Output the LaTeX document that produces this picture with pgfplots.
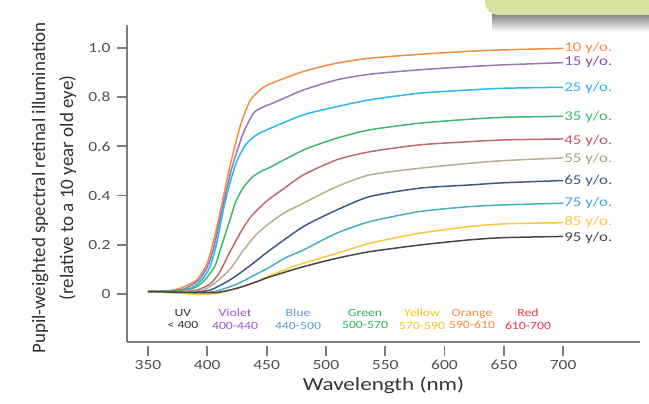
\documentclass[border=0pt]{standalone}
\usepackage{pgfplots}
\pgfplotsset{compat=1.18}
\usepackage{fontspec}
\setmainfont{Carlito}[FakeStretch=1.25]
\newfontfamily\ylabfont{Carlito}

\definecolor{c10}{RGB}{245,140,65}
\definecolor{c15}{RGB}{150,120,180}
\definecolor{l15}{RGB}{135,80,175}
\definecolor{c25}{RGB}{40,185,240}
\definecolor{c35}{RGB}{60,185,110}
\definecolor{c45}{RGB}{195,105,110}
\definecolor{l45}{RGB}{190,90,95}
\definecolor{c55}{RGB}{185,175,140}
\definecolor{l55}{RGB}{170,160,120}
\definecolor{c65}{RGB}{60,90,130}
\definecolor{c75}{RGB}{70,175,195}
\definecolor{l75}{RGB}{70,160,220}
\definecolor{c85}{RGB}{250,200,60}
\definecolor{c95}{RGB}{70,70,70}
\definecolor{axgray}{RGB}{125,125,125}
\definecolor{tickgray}{RGB}{80,80,80}
\definecolor{boxgreen}{RGB}{214,227,160}
\definecolor{bViolet}{RGB}{160,80,200}
\definecolor{bBlue}{RGB}{91,155,213}
\definecolor{bGreen}{RGB}{46,175,90}
\definecolor{bYellow}{RGB}{245,197,24}
\definecolor{bOrange}{RGB}{245,138,60}
\definecolor{bRed}{RGB}{240,48,64}

\begin{document}
\begin{tikzpicture}
\useasboundingbox (0,0) rectangle (649pt,-404pt);
\clip (0,0) rectangle (649pt,-404pt);
% decorative slide box
\shade[top color=black!60, bottom color=white] (492pt,-10pt) rectangle (660pt,-32pt);
\fill[boxgreen, rounded corners=13pt] (485pt,-15pt) rectangle (700pt,30pt);

\begin{axis}[
  at={(127pt,-342pt)}, anchor=south west,
  scale only axis, width=513pt, height=317pt,
  xmin=332.3, xmax=764.8, ymin=-0.195, ymax=1.093,
  axis x line*=bottom, axis y line*=left,
  axis line style={axgray, line width=1.8pt},
  tick align=outside, major tick length=10pt,
  xtick={350,400,450,500,550,600,650,700},
  xticklabels={350,400,450,500,550,600,650,700},
  ytick={0,0.2,0.4,0.6,0.8,1.0},
  yticklabels={0,0.2,0.4,0.6,0.8,1.0},
  xtick style={axgray, line width=1.8pt, yshift=-4pt},
  ytick style={axgray, line width=1.8pt},
  xticklabel style={font=\fontsize{14}{16}\selectfont, text=tickgray, yshift=-5pt},
  yticklabel style={font=\fontsize{14}{16}\selectfont, text=tickgray, xshift=-3pt},
  xlabel={Wavelength (nm)},
  xlabel style={at={(axis description cs:0.5,0)}, anchor=center, yshift=-43pt,
    font=\fontsize{18.5}{20}\selectfont, text=black!80},
  ylabel={Pupil-weighted spectral retinal illumination\\(relative to a 10 year old eye)},
  ylabel style={at={(axis description cs:-0.1423,0.486)}, anchor=center, rotate=0,
    align=center, font=\ylabfont\fontsize{19}{28}\selectfont, text=black!80},
  clip=false,
  every axis plot/.append style={line width=1.5pt, smooth, tension=0.4},
]
% 10 y/o
\addplot[c10] coordinates {(350,0.01)(365,0.012)(377,0.023)(391,0.057)(399.5,0.12)(405,0.21)(410.7,0.33)(419,0.517)(427.6,0.68)(436,0.785)(446,0.835)(455,0.858)(481,0.904)(509,0.938)(537,0.958)(579,0.974)(621,0.986)(650,0.992)(700,0.998)};
% 15 y/o
\addplot[c15] coordinates {(350,0.01)(365,0.012)(380,0.02)(393,0.057)(401,0.12)(406,0.2)(411,0.31)(420,0.5)(430,0.65)(439,0.735)(447,0.76)(455,0.775)(481,0.829)(509,0.87)(537,0.893)(579,0.911)(621,0.924)(650,0.931)(700,0.94)};
% 25 y/o
\addplot[c25] coordinates {(350,0.01)(365,0.012)(385.4,0.023)(395.3,0.057)(402.3,0.111)(407.9,0.206)(413.5,0.341)(419,0.45)(425,0.54)(432,0.605)(441,0.645)(453,0.673)(481,0.728)(509,0.761)(537,0.789)(579,0.816)(621,0.829)(650,0.836)(700,0.84)};
% 35 y/o
\addplot[c35] coordinates {(350,0.01)(365,0.011)(388,0.023)(398,0.057)(406.5,0.115)(412,0.195)(419,0.3)(424,0.375)(430,0.43)(438,0.475)(446,0.5)(453,0.515)(481,0.585)(509,0.633)(537,0.667)(579,0.694)(621,0.71)(650,0.718)(700,0.722)};
% 45 y/o
\addplot[c45] coordinates {(350,0.01)(375,0.01)(391,0.016)(402,0.04)(410,0.085)(419,0.17)(428,0.25)(436,0.31)(445,0.355)(453,0.389)(465,0.43)(481,0.484)(509,0.545)(537,0.578)(579,0.606)(621,0.619)(650,0.626)(700,0.63)};
% 55 y/o
\addplot[c55] coordinates {(350,0.01)(380,0.008)(396.6,0.016)(407.9,0.05)(419,0.1)(430,0.175)(441,0.24)(453,0.29)(465,0.33)(481,0.369)(509,0.436)(537,0.484)(579,0.511)(621,0.531)(650,0.542)(700,0.553)};
% 65 y/o
\addplot[c65] coordinates {(350,0.01)(385,0.006)(402.3,0.016)(419,0.057)(436,0.115)(453,0.179)(481,0.274)(509,0.341)(537,0.396)(579,0.43)(621,0.443)(650,0.452)(700,0.461)};
% 75 y/o
\addplot[c75] coordinates {(350,0.01)(385,0.005)(405,0.009)(424.8,0.04)(441,0.08)(453,0.11)(465,0.145)(481,0.179)(509,0.247)(537,0.294)(579,0.335)(621,0.355)(650,0.362)(700,0.369)};
% 85 y/o
\addplot[c85] coordinates {(350,0.01)(375,0.004)(391,-0.002)(408,0.003)(424.8,0.023)(441.6,0.05)(453,0.075)(481,0.125)(509,0.165)(537,0.206)(579,0.247)(621,0.274)(650,0.285)(700,0.29)};
% 95 y/o
\addplot[c95] coordinates {(350,0.01)(375,0.007)(391,0.006)(408,0.006)(424.8,0.023)(441.6,0.05)(453,0.07)(481,0.111)(509,0.145)(537,0.172)(579,0.199)(621,0.22)(650,0.229)(700,0.234)};

% curve labels
\begin{scope}[every node/.style={anchor=west, inner sep=1pt, font=\fontsize{13.5}{15}\selectfont}]
\node[text=c10] at (axis cs:700,1.0) {10 y/o.};
\node[text=l15] at (axis cs:700,0.943) {15 y/o.};
\node[text=c25] at (axis cs:700,0.837) {25 y/o.};
\node[text=c35] at (axis cs:700,0.72) {35 y/o.};
\node[text=l45] at (axis cs:700,0.622) {45 y/o.};
\node[text=l55] at (axis cs:700,0.549) {55 y/o.};
\node[text=c65] at (axis cs:700,0.459) {65 y/o.};
\node[text=l75] at (axis cs:700,0.37) {75 y/o.};
\node[text=c85] at (axis cs:700,0.293) {85 y/o.};
\node[text=c95] at (axis cs:700,0.228) {95 y/o.};
\end{scope}

% colour band labels
\begin{scope}[every node/.style={anchor=center, align=center, inner sep=0pt, font=\fontsize{11}{12.5}\selectfont}]
\node[text=black!80] at (axis cs:379.5,-0.1016) {UV\\< 400};
\node[text=bViolet] at (axis cs:423.4,-0.1016) {Violet\\400-440};
\node[text=bBlue] at (axis cs:476.5,-0.1016) {Blue\\440-500};
\node[text=bGreen] at (axis cs:533,-0.1016) {Green\\500-570};
\node[text=bYellow] at (axis cs:581,-0.1016) {Yellow\\570-590};
\node[text=bOrange] at (axis cs:623.2,-0.1016) {Orange\\590-610};
\node[text=bRed] at (axis cs:670.4,-0.1016) {Red\\610-700};
\end{scope}
\end{axis}
\end{tikzpicture}
\end{document}
